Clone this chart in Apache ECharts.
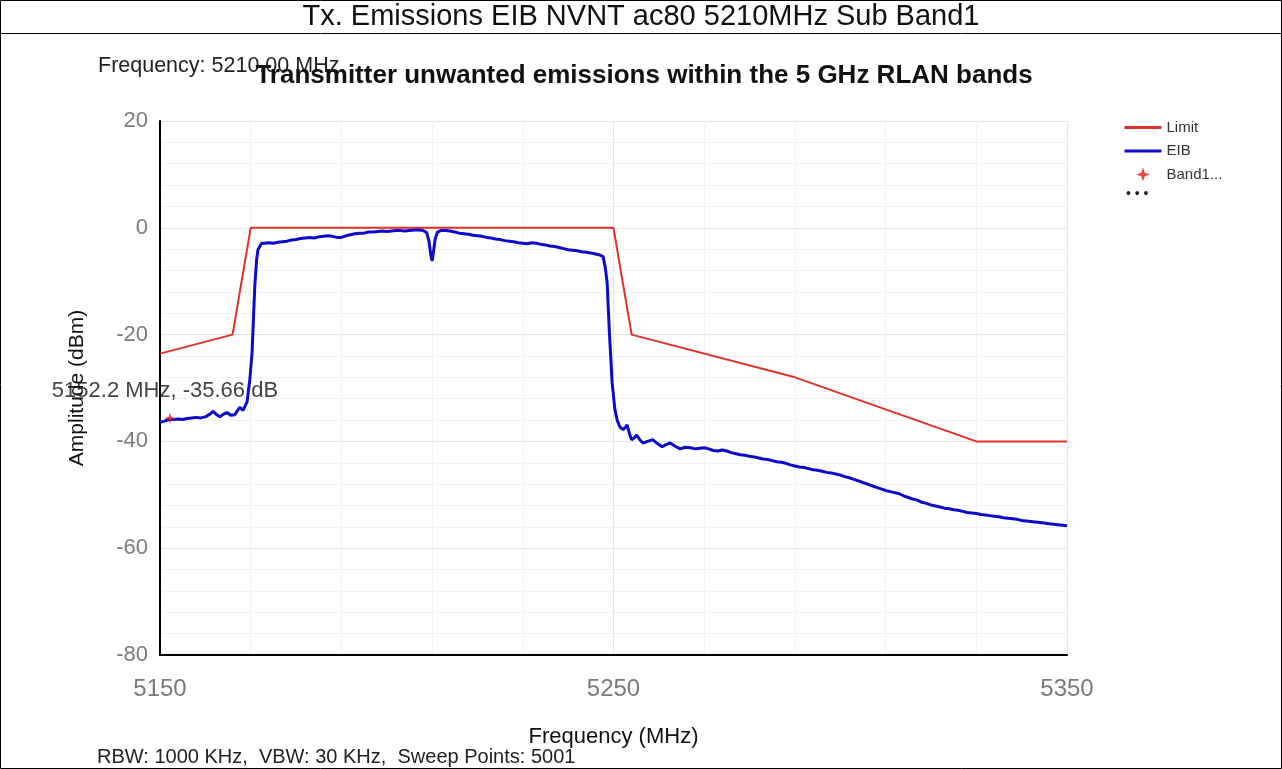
<!DOCTYPE html>
<html>
<head>
<meta charset="utf-8">
<title>Tx. Emissions EIB NVNT ac80 5210MHz Sub Band1</title>
<script src="https://cdn.jsdelivr.net/npm/echarts@6/dist/echarts.min.js"></script>
<style>
  html, body { margin: 0; padding: 0; background: #ffffff; }
  #chart { width: 1282px; height: 769px; }
</style>
</head>
<body>
<div id="chart"></div>
<script>
// Axis ticks
const xTicks = [5150, 5250, 5350];
const yTicks = [-80, -60, -40, -20, 0, 20];

// Limit mask (MHz, dBm)
const limitFreq  = [5150, 5166, 5170, 5250, 5254, 5290, 5330, 5350];
const limitLevel = [-23.56, -20, 0, 0, -20, -28, -40, -40];

// Measured EIB trace (MHz, dBm)
const eibFreq = [
  5150, 5151, 5152, 5152.2, 5153, 5154, 5155, 5156, 5157, 5158, 5159, 5160,
  5161, 5161.7, 5162.5, 5163.2, 5164, 5164.8, 5165.6, 5166.5, 5167.6, 5168.3, 5169.2, 5169.8,
  5170.3, 5170.9, 5171.3, 5171.6, 5172.4, 5173, 5174, 5175, 5176, 5177, 5178, 5179,
  5180, 5181, 5182, 5183, 5184, 5185, 5186, 5187, 5188, 5189, 5190, 5191,
  5192, 5193, 5194, 5195, 5196, 5197, 5198, 5199, 5200, 5201, 5202, 5203,
  5204, 5205, 5206, 5207, 5208, 5208.8, 5209.3, 5209.7, 5210, 5210.3, 5210.7, 5211.2,
  5212, 5213, 5214, 5215, 5216, 5217, 5218, 5219, 5220, 5221, 5222, 5223,
  5224, 5225, 5226, 5227, 5228, 5229, 5230, 5231, 5232, 5233, 5234, 5235,
  5236, 5237, 5238, 5239, 5240, 5241, 5242, 5243, 5244, 5245, 5246, 5247,
  5247.7, 5248.2, 5248.6, 5249.1, 5249.7, 5250.3, 5250.8, 5251.4, 5252.1, 5252.6, 5253, 5253.5,
  5254, 5254.6, 5255.1, 5255.8, 5256.5, 5257.5, 5258.7, 5259.7, 5260.7, 5261.6, 5262.5, 5263.6,
  5264.7, 5265.8, 5267, 5268, 5269, 5270, 5271, 5272, 5273, 5274, 5275, 5276,
  5277, 5278, 5279, 5280, 5281, 5282, 5283, 5284, 5285, 5286, 5287, 5288,
  5289, 5290, 5291, 5292, 5293, 5294, 5295, 5296, 5297, 5298, 5299, 5300,
  5301, 5302, 5303, 5304, 5305, 5306, 5307, 5308, 5309, 5310, 5311, 5312,
  5313, 5314, 5315, 5316, 5317, 5318, 5319, 5320, 5321, 5322, 5323, 5324,
  5325, 5326, 5327, 5328, 5329, 5330, 5331, 5332, 5333, 5334, 5335, 5336,
  5337, 5338, 5339, 5340, 5341, 5342, 5343, 5344, 5345, 5346, 5347, 5348,
  5349, 5350
];
const eibLevel = [
  -36.4, -36.2, -35.9, -35.66, -35.9, -35.8, -35.9, -35.7, -35.6, -35.5, -35.6, -35.4,
  -34.9, -34.4, -35.0, -35.4, -34.9, -34.6, -35.1, -35.0, -33.6, -34.2, -32.6, -28.5,
  -23.4, -11.0, -6.0, -4.1, -2.9, -2.9, -2.8, -2.9, -2.7, -2.6, -2.5, -2.3,
  -2.2, -2.0, -1.9, -1.8, -1.9, -1.7, -1.6, -1.5, -1.6, -1.8, -1.8, -1.5,
  -1.3, -1.1, -1.0, -1.0, -0.8, -0.8, -0.7, -0.6, -0.7, -0.6, -0.5, -0.5,
  -0.6, -0.5, -0.4, -0.4, -0.5, -0.9, -2.5, -5.0, -6.2, -4.5, -2.0, -0.8,
  -0.5, -0.5, -0.6, -0.8, -1.0, -1.1, -1.2, -1.4, -1.5, -1.6, -1.8, -1.9,
  -2.1, -2.2, -2.4, -2.5, -2.6, -2.8, -2.9, -3.0, -2.8, -2.9, -3.1, -3.2,
  -3.4, -3.5, -3.7, -3.9, -4.1, -4.2, -4.3, -4.5, -4.6, -4.7, -4.9, -5.1,
  -5.4, -7.5, -10.3, -19.7, -29.0, -34.0, -36.0, -37.3, -37.8, -37.4, -36.9, -38.5,
  -39.7, -39.3, -38.8, -39.7, -40.3, -40.0, -39.7, -40.4, -41.0, -40.6, -40.3, -40.9,
  -41.4, -41.1, -41.2, -41.4, -41.3, -41.2, -41.4, -41.7, -41.8, -41.6, -41.8, -42.1,
  -42.3, -42.5, -42.6, -42.8, -42.9, -43.1, -43.3, -43.4, -43.6, -43.8, -43.9, -44.1,
  -44.4, -44.6, -44.8, -44.9, -45.1, -45.3, -45.4, -45.6, -45.8, -45.9, -46.1, -46.3,
  -46.6, -46.8, -47.1, -47.4, -47.7, -48.0, -48.3, -48.6, -48.9, -49.2, -49.4, -49.6,
  -49.8, -50.2, -50.5, -50.8, -51.0, -51.4, -51.6, -51.9, -52.1, -52.3, -52.5, -52.6,
  -52.8, -52.9, -53.1, -53.3, -53.4, -53.5, -53.7, -53.8, -53.9, -54.0, -54.1, -54.3,
  -54.4, -54.5, -54.6, -54.8, -54.9, -55.0, -55.1, -55.2, -55.3, -55.4, -55.5, -55.6,
  -55.7, -55.8
];

// Band edge marker
const markerFreq = [5152.2];
const markerLevel = [-35.66];

const pairs = (xs, ys) => xs.map((x, i) => [x, ys[i]]);
const starIcon = 'path://M5,0L6.3,3.7L10,5L6.3,6.3L5,10L3.7,6.3L0,5L3.7,3.7Z';
const FONT = '"Liberation Sans", Arial, sans-serif';

const chart = echarts.init(document.getElementById('chart'), null, { renderer: 'canvas' });

chart.setOption({
  backgroundColor: '#ffffff',
  animation: false,
  textStyle: { fontFamily: FONT },
  grid: { left: 160, right: 215, top: 121, bottom: 114, containLabel: false },
  xAxis: {
    type: 'value',
    min: xTicks[0],
    max: xTicks[xTicks.length - 1],
    interval: xTicks[1] - xTicks[0],
    name: 'Frequency (MHz)',
    nameLocation: 'middle',
    nameGap: 71,
    nameTextStyle: { color: '#111', fontSize: 22, fontFamily: FONT },
    axisLine: { show: true, onZero: false, lineStyle: { color: '#000', width: 2 } },
    axisTick: { show: false },
    axisLabel: { color: '#7a7a7a', fontSize: 24, margin: 22, fontFamily: FONT, formatter: v => String(v) },
    splitLine: { show: true, lineStyle: { color: '#e6e6e6', width: 1 } },
    minorTick: { show: false, splitNumber: 5 },
    minorSplitLine: { show: true, lineStyle: { color: '#f2f2f2', width: 1 } }
  },
  yAxis: {
    type: 'value',
    min: yTicks[0],
    max: yTicks[yTicks.length - 1],
    interval: yTicks[1] - yTicks[0],
    name: 'Amplitude (dBm)',
    nameLocation: 'middle',
    nameGap: 72,
    nameRotate: 90,
    nameTextStyle: { color: '#111', fontSize: 21, fontFamily: FONT },
    axisLine: { show: true, onZero: false, lineStyle: { color: '#000', width: 2 } },
    axisTick: { show: false },
    axisLabel: { color: '#7a7a7a', fontSize: 22, margin: 12, fontFamily: FONT, formatter: v => String(v) },
    splitLine: { show: true, lineStyle: { color: '#e6e6e6', width: 1 } },
    minorTick: { show: false, splitNumber: 5 },
    minorSplitLine: { show: true, lineStyle: { color: '#f2f2f2', width: 1 } }
  },
  legend: {
    orient: 'vertical',
    left: 1118,
    top: 115,
    itemWidth: 37,
    itemHeight: 14,
    itemGap: 8.5,
    textStyle: { color: '#333', fontSize: 15, fontFamily: FONT },
    data: [
      { name: 'Limit', itemStyle: { opacity: 0 }, lineStyle: { width: 3 } },
      { name: 'EIB', itemStyle: { opacity: 0 }, lineStyle: { width: 3 } },
      { name: 'Band1...' }
    ]
  },
  series: [
    {
      name: 'Limit',
      type: 'line',
      data: pairs(limitFreq, limitLevel),
      symbol: 'none',
      lineStyle: { color: '#e0302c', width: 2 },
      itemStyle: { color: '#e0302c' },
      z: 2
    },
    {
      name: 'EIB',
      type: 'line',
      data: pairs(eibFreq, eibLevel),
      symbol: 'none',
      lineStyle: { color: '#0c0cc8', width: 3 },
      itemStyle: { color: '#0c0cc8' },
      z: 3
    },
    {
      name: 'Band1...',
      type: 'scatter',
      data: pairs(markerFreq, markerLevel),
      symbol: starIcon,
      symbolSize: 11,
      itemStyle: { color: '#ee1c1c' },
      label: {
        show: true,
        position: 'top',
        distance: 11,
        offset: [-5, 0],
        color: '#111',
        fontSize: 22,
        fontFamily: FONT,
        formatter: p => p.value[0].toFixed(1) + ' MHz, ' + p.value[1].toFixed(2) + ' dB'
      },
      z: 5
    }
  ],
  graphic: [
    // frame around the figure and the heading row
    {
      type: 'rect', silent: true, z: 0,
      shape: { x: 0.5, y: 0.5, width: 1281, height: 768 },
      style: { fill: null, stroke: '#000', lineWidth: 1 }
    },
    {
      type: 'line', silent: true,
      shape: { x1: 0, y1: 33.5, x2: 1282, y2: 33.5 },
      style: { stroke: '#000', lineWidth: 1 }
    },
    {
      type: 'text', silent: true,
      x: 641, y: 17,
      style: {
        text: 'Tx. Emissions EIB NVNT ac80 5210MHz Sub Band1',
        fill: '#111', fontSize: 29, fontFamily: FONT,
        textAlign: 'center', textVerticalAlign: 'middle'
      }
    },
    {
      type: 'text', silent: true,
      x: 98, y: 66,
      style: {
        text: 'Frequency: 5210.00 MHz',
        fill: '#222', fontSize: 21.5, fontFamily: FONT,
        textAlign: 'left', textVerticalAlign: 'middle'
      }
    },
    {
      type: 'text', silent: true,
      x: 644, y: 76,
      style: {
        text: 'Transmitter unwanted emissions within the 5 GHz RLAN bands',
        fill: '#111', fontSize: 26, fontWeight: 'bold', fontFamily: FONT,
        textAlign: 'center', textVerticalAlign: 'middle'
      }
    },
    {
      type: 'text', silent: true,
      x: 1126, y: 194,
      style: {
        text: '• • •',
        fill: '#222', fontSize: 14, fontFamily: FONT,
        textAlign: 'left', textVerticalAlign: 'middle'
      }
    },
    {
      type: 'text', silent: true,
      x: 97, y: 757,
      style: {
        text: 'RBW: 1000 KHz,  VBW: 30 KHz,  Sweep Points: 5001',
        fill: '#222', fontSize: 20, fontFamily: FONT,
        textAlign: 'left', textVerticalAlign: 'middle'
      }
    }
  ]
});
</script>
</body>
</html>
